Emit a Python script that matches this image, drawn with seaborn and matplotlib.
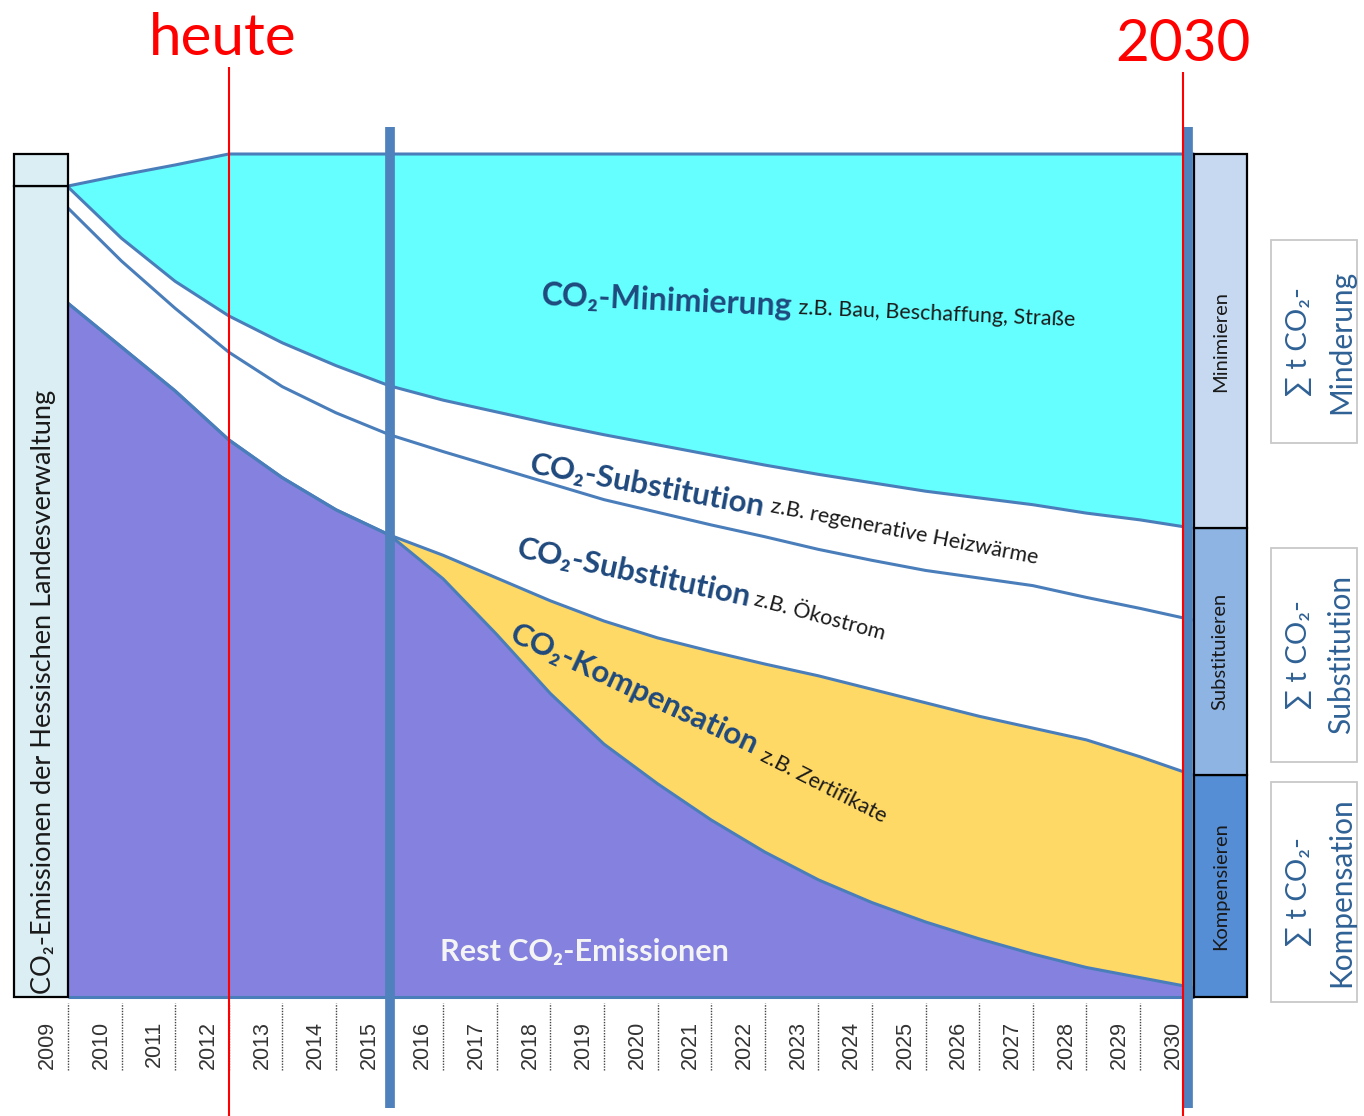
import matplotlib.pyplot as plt
import numpy as np
import seaborn as sns
from matplotlib.patches import Rectangle

# Jahre (Spalten) und Grenzlinien der Flaechen (in % der Emission, 100 = oberer Rand)
years = [2009, 2010, 2011, 2012, 2013, 2014, 2015, 2016, 2017, 2018, 2019,
         2020, 2021, 2022, 2023, 2024, 2025, 2026, 2027, 2028, 2029, 2030]
total = [96.2, 97.5, 98.7, 100.0, 100.0, 100.0, 100.0, 100.0, 100.0, 100.0, 100.0,
         100.0, 100.0, 100.0, 100.0, 100.0, 100.0, 100.0, 100.0, 100.0, 100.0, 100.0]
mini_low = [96.1, 90.0, 84.9, 80.8, 77.6, 74.9, 72.5, 70.8, 69.4, 68.0, 66.7,
            65.5, 64.3, 63.1, 62.0, 61.0, 60.0, 59.2, 58.4, 57.4, 56.6, 55.6]
heat_low = [93.6, 87.3, 81.7, 76.5, 72.4, 69.3, 66.7, 64.7, 62.8, 60.9, 59.0,
            57.5, 56.0, 54.6, 53.1, 51.8, 50.6, 49.7, 48.8, 47.4, 46.1, 44.7]
komp_top = [82.3, 77.1, 71.9, 66.1, 61.6, 57.8, 54.8, 52.4, 49.7, 47.0, 44.6,
            42.6, 41.0, 39.5, 38.1, 36.5, 34.9, 33.3, 31.9, 30.5, 28.5, 26.3]
rest = [82.3, 77.1, 71.9, 66.1, 61.6, 57.8, 54.8, 49.6, 43.0, 36.0, 30.0,
        25.3, 21.0, 17.2, 13.9, 11.2, 8.9, 6.9, 5.1, 3.5, 2.3, 1.1]

bar_labels = ["Kompensieren", "Substituieren", "Minimieren"]
box_labels = ["Kompensation", "Substitution", "Minderung"]

CYAN = "#66FFFF"
PURPLE = "#8482DE"
YELLOW = "#FFD966"
LINE = "#4A7EBB"
BLUE_BAR = "#4F81BD"
DARK = "#1F497D"
BOX_TXT = "#2F6195"
bar_colors = ["#558ED5", "#8EB4E3", "#C6D9F1"]

sns.set_theme(style="white")
plt.rcParams["font.family"] = ["Lato", "DejaVu Sans"]

fig = plt.figure(figsize=(13.64, 11.16), dpi=100)
ax = fig.add_axes([0, 0, 1, 1])
ax.set_xlim(-0.767, 24.68)
ax.set_ylim(-14.12, 118.27)
ax.axis("off")

x = np.arange(len(years)) + 0.5

# Flaechen
ax.fill_between(x, 0, rest, color=PURPLE, lw=0, zorder=1)
ax.fill_between(x, rest, komp_top, color=YELLOW, lw=0, zorder=1)
ax.fill_between(x, mini_low, total, color=CYAN, lw=0, zorder=1)

for series in [total, mini_low, heat_low, komp_top, rest]:
    sns.lineplot(x=x, y=series, ax=ax, color=LINE, linewidth=2.2,
                 sort=False, legend=False, zorder=2)
ax.hlines(0, x[0], x[-1], color=LINE, lw=2.2, zorder=2)

# Balken 2009
ax.bar(0, total[0], width=1, bottom=0, color="#DAEEF3", edgecolor="black", lw=1.6, zorder=3)
ax.bar(0, 100 - total[0], width=1, bottom=total[0], color="#DAEEF3",
       edgecolor="black", lw=1.6, zorder=3)
ax.text(0.05, 0.3, "CO₂-Emissionen der Hessischen Landesverwaltung", rotation=90,
        ha="center", va="bottom", fontsize=19.5, color="#1a1a1a", zorder=6)

# Balken rechts (Summen 2030)
bottoms = [0, komp_top[-1], mini_low[-1]]
heights = [komp_top[-1], mini_low[-1] - komp_top[-1], total[-1] - mini_low[-1]]
for b, h, c, lab in zip(bottoms, heights, bar_colors, bar_labels):
    ax.bar(22, h, width=1, bottom=b, color=c, edgecolor="black", lw=1.6, zorder=3)
    ax.text(22, b + h / 2, lab, rotation=90, ha="center", va="center",
            fontsize=14.5, color="#1a1a1a", zorder=6)

# Kaesten mit Summen
box_spans = [(-0.6, 25.5), (27.9, 53.3), (65.7, 89.8)]
for (y0, y1), lab in zip(box_spans, box_labels):
    ax.add_patch(Rectangle((22.95, y0), 1.6, y1 - y0, facecolor="white",
                           edgecolor="#C8C8C8", lw=1.3, zorder=3))
    ym = (y0 + y1) / 2
    ax.text(23.47, ym, "∑ t CO₂-", rotation=90, ha="center", va="center",
            fontsize=21, color=BOX_TXT, zorder=6)
    ax.text(24.25, ym, lab, rotation=90, ha="center", va="center",
            fontsize=21.5, color=BOX_TXT, zorder=6)

# Jahresachse
for i, yr in enumerate(years):
    ax.text(i + 0.12, -2.85, str(yr), rotation=90, ha="center", va="top",
            fontsize=15.5, family="Liberation Sans", color="#333333", zorder=6)
ax.vlines(x[:-1], -8.66, -0.71, colors="#444444", lw=1, linestyles=(0, (1, 1)), zorder=2)

# senkrechte Linien
ax.vlines([6.5, 21.4], -13.17, 103.2, colors=BLUE_BAR, lw=7, zorder=4)
ax.vlines(3.5, -14.2, 110.3, colors="red", lw=1.5, zorder=5)
ax.vlines(21.31, -14.2, 109.7, colors="red", lw=1.5, zorder=5)
ax.text(3.38, 111.7, "heute", ha="center", va="baseline", fontsize=42, color="red")
ax.text(21.3, 111.0, "2030", ha="center", va="baseline", fontsize=42, color="red")

# Beschriftungen der Flaechen
labels = [
    (9.33, 82.1, -2.5, 23, "CO₂-Minimierung", 14.12, 81.0, -2.5, "z.B. Bau, Beschaffung, Straße"),
    (9.1, 62.1, -10.5, 22.5, "CO₂-Substitution", 13.6, 57.5, -11, "z.B. regenerative Heizwärme"),
    (8.86, 52.2, -12, 22.5, "CO₂-Substitution", 13.28, 46.5, -15, "z.B. Ökostrom"),
    (8.7, 42.3, -25, 22.5, "CO₂-Kompensation", 13.4, 28.1, -27, "z.B. Zertifikate"),
]
for px, py, rot, fs, main, sx, sy, srot, sub in labels:
    ax.text(px, py, main, rotation=rot, rotation_mode="anchor", ha="left", va="baseline",
            fontsize=fs, fontweight="bold", color=DARK, zorder=6)
    ax.text(sx, sy, sub, rotation=srot, rotation_mode="anchor", ha="left", va="baseline",
            fontsize=15.5, color="#1a1a1a", zorder=6)

ax.text(10.13, 5.3, "Rest CO₂-Emissionen", ha="center", va="center",
        fontsize=22, fontweight="bold", color="#F4F4F4", zorder=6)

plt.savefig("out.png", dpi=100)
